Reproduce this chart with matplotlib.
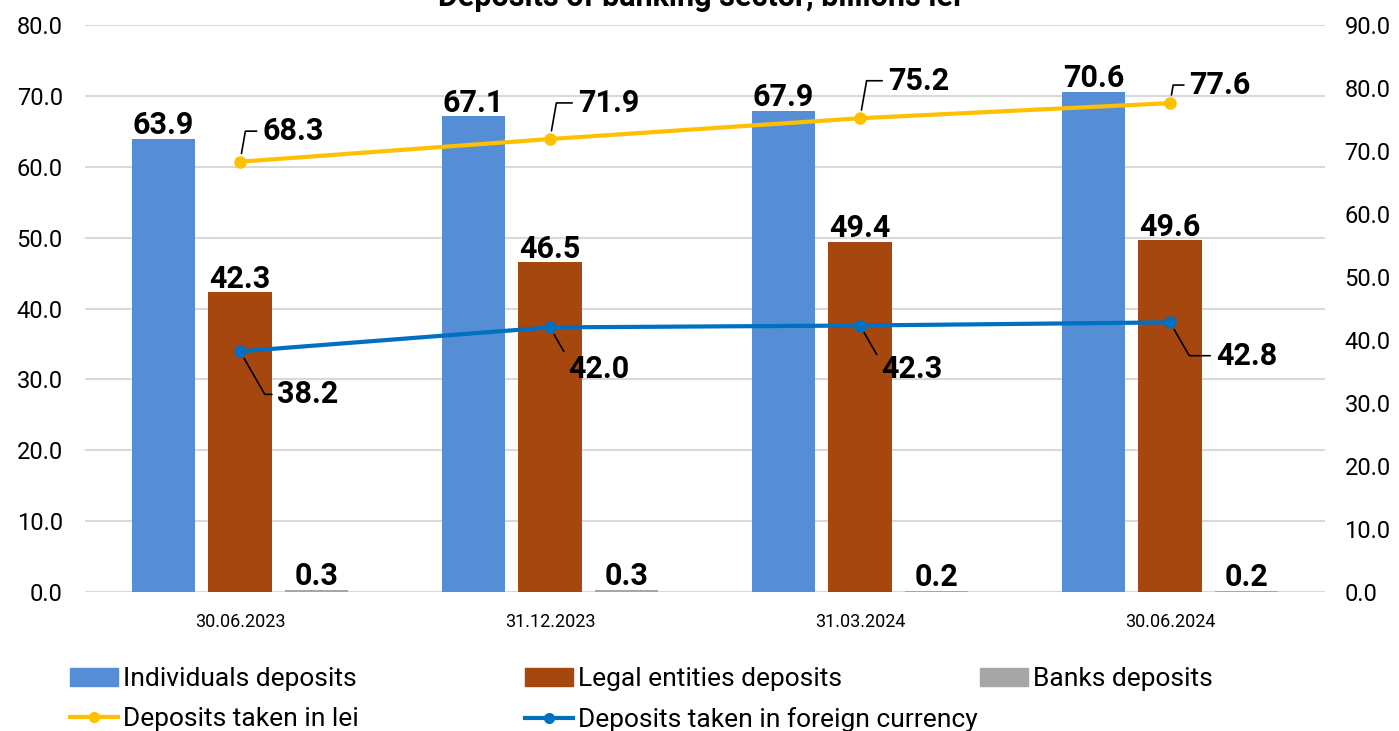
import matplotlib
matplotlib.use("Agg")
import matplotlib.pyplot as plt
from matplotlib.patches import Patch
from matplotlib.lines import Line2D
import numpy as np

categories = ["30.06.2023", "31.12.2023", "31.03.2024", "30.06.2024"]
individuals = [63.9, 67.1, 67.9, 70.6]
legal_entities = [42.3, 46.5, 49.4, 49.6]
banks = [0.3, 0.3, 0.2, 0.2]
lei = [68.3, 71.9, 75.2, 77.6]
foreign = [38.2, 42.0, 42.3, 42.8]

plt.rcParams["font.family"] = ["Roboto", "DejaVu Sans"]

c_ind = "#558ED5"
c_leg = "#A5470E"
c_bank = "#A6A6A6"
c_lei = "#FFC000"
c_for = "#0070C0"

fig = plt.figure(figsize=(13.99, 7.31), dpi=100)
ax = fig.add_axes([85/1399, 1-592/731, (1325-85)/1399, (592-25)/731])
ax2 = ax.twinx()

x = np.arange(len(categories))
w = 0.205
off = 0.247
b1 = ax.bar(x - off, individuals, w, color=c_ind, zorder=2)
b2 = ax.bar(x, legal_entities, w, color=c_leg, zorder=2)
b3 = ax.bar(x + off, banks, w, color=c_bank, zorder=2)

lab_kw = dict(fontsize=22, fontweight="bold", ha="center", va="bottom")
for bars, vals in ((b1, individuals), (b2, legal_entities), (b3, banks)):
    for r, v in zip(bars, vals):
        ax.annotate(f"{v:.1f}", (r.get_x() + r.get_width()/2, v),
                    xytext=(0, -1), textcoords="offset points", **lab_kw)

ax.set_ylim(0, 80)
ax.set_yticks(np.arange(0, 81, 10))
ax.set_yticklabels([f"{t:.1f}" for t in np.arange(0, 81, 10)])
ax.set_xlim(-0.5, 3.5)
ax.set_xticks(x)
ax.set_xticklabels(categories)
ax.grid(axis="y", color="#D9D9D9", lw=1.5, zorder=0)
ax.set_axisbelow(True)
for s in ax.spines.values():
    s.set_visible(False)
for s in ax2.spines.values():
    s.set_visible(False)
ax.tick_params(axis="y", length=0, labelsize=17, pad=16)
ax.tick_params(axis="x", length=0, labelsize=13, pad=15)

ax2.plot(x, lei, color=c_lei, lw=3, marker="o", ms=8, zorder=3)
ax2.plot(x, foreign, color=c_for, lw=3, marker="o", ms=8, zorder=3)
ax2.set_ylim(0, 90)
ax2.set_yticks(np.arange(0, 91, 10))
ax2.set_yticklabels([f"{t:.1f}" for t in np.arange(0, 91, 10)])
ax2.tick_params(axis="y", length=0, labelsize=17, pad=14)

lei_off = [(16, 22), (20, 26), (20, 27), (14, 13)]
for_off = [(27, -31), (13, -30), (15, -31), (33, -24)]
for i in range(len(categories)):
    for vals, offs, angB in ((lei, lei_off, 80), (foreign, for_off, -60)):
        ax2.annotate(f"{vals[i]:.1f}", (x[i], vals[i]), xytext=offs[i],
                     textcoords="offset points", fontsize=22, fontweight="bold",
                     ha="left", va="center",
                     arrowprops=dict(arrowstyle="-", color="black", lw=1.2,
                                     shrinkA=2, shrinkB=6,
                                     connectionstyle=f"angle,angleA=0,angleB={angB}"))

fig.text(0.5, 1 - 6/731, "Deposits of banking sector, billions lei",
         ha="center", va="baseline", fontsize=22, fontweight="bold")

leg_kw = dict(loc="upper left", frameon=False, fontsize=19, handlelength=1.8,
              handletextpad=0.2, labelspacing=0.6, borderpad=0, borderaxespad=0)
fig.legend([Patch(color=c_ind), Line2D([], [], color=c_lei, lw=3, marker="o", ms=7)],
           ["Individuals deposits", "Deposits taken in lei"],
           bbox_to_anchor=(70/1399, 1 - 667/731), **leg_kw)
fig.legend([Patch(color=c_leg), Line2D([], [], color=c_for, lw=3, marker="o", ms=7)],
           ["Legal entities deposits", "Deposits taken in foreign currency"],
           bbox_to_anchor=(525/1399, 1 - 667/731), **leg_kw)
fig.legend([Patch(color=c_bank)], ["Banks deposits"],
           bbox_to_anchor=(980/1399, 1 - 667/731), **leg_kw)

fig.savefig("out.png", dpi=100)
